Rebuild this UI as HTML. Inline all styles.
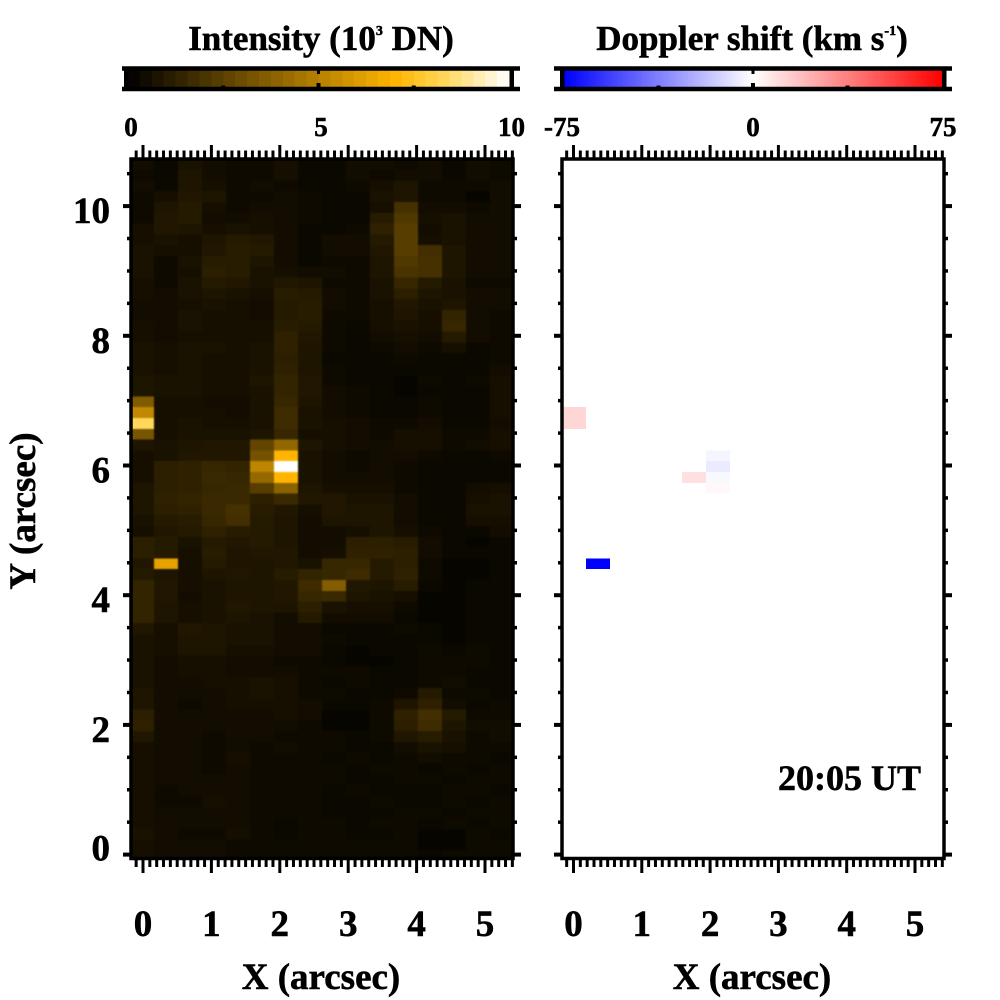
<!DOCTYPE html>
<html>
<head>
<meta charset="utf-8">
<title>Intensity and Doppler shift maps</title>
<style>
html,body{margin:0;padding:0;background:#fff;width:1000px;height:1000px;overflow:hidden}
svg{display:block}
text{font-family:"Liberation Serif",serif;font-weight:bold;fill:#000;stroke:#000;stroke-width:.55px}
</style>
</head>
<body>
<svg id="chart" width="1000" height="1000" viewBox="0 0 1000 1000" xmlns="http://www.w3.org/2000/svg">
  <text x="321" y="50" font-size="35" text-anchor="middle">Intensity (10<tspan font-size="14" dy="-15">3</tspan><tspan dy="15"> DN)</tspan></text>
  <text x="752" y="50" font-size="35" text-anchor="middle">Doppler shift (km s<tspan font-size="14" dy="-15">-1</tspan><tspan dy="15">)</tspan></text>
  <g id="colorbars"></g>
  <g id="left-image"></g>
  <g id="right-image"></g>
  <g id="axes"></g>
  <text x="321" y="989" font-size="37" text-anchor="middle">X (arcsec)</text>
  <text x="752" y="989" font-size="37" text-anchor="middle">X (arcsec)</text>
  <text transform="translate(35,511) rotate(-90)" font-size="37" text-anchor="middle">Y (arcsec)</text>
  <text x="778" y="790" font-size="36">20:05 UT</text>
</svg>
<script>
// Data: intensity in units of 100 DN, one row per detector row (top to bottom), 16 columns
const intensityRows = [
[5,3,7,5,4,4,6,3,3,5,5,4,5,3,5,4],
[4,3,8,5,4,4,6,3,3,5,4,5,5,3,5,4],
[5,3,8,6,4,5,4,3,3,4,6,8,4,4,4,5],
[4,6,9,8,4,4,5,4,3,3,7,8,4,4,2,5],
[4,8,10,6,4,5,5,4,3,3,6,19,5,5,4,5],
[4,9,10,5,5,6,5,4,3,3,11,22,6,7,5,5],
[6,9,8,6,7,6,5,3,3,4,13,24,5,7,5,5],
[6,7,6,8,10,9,5,3,5,5,10,24,6,7,5,5],
[7,6,6,9,11,10,5,3,5,5,9,24,18,8,5,5],
[7,4,7,11,11,8,5,3,4,4,8,22,19,8,5,5],
[7,4,6,12,11,7,6,5,5,4,8,20,19,8,5,5],
[6,4,7,10,9,7,9,8,4,4,7,15,10,7,4,4],
[6,5,7,8,7,6,11,10,5,4,7,12,8,7,5,5],
[5,5,6,7,6,5,10,11,5,4,6,9,7,8,5,5],
[5,5,7,6,6,5,10,11,4,4,6,8,6,14,5,4],
[6,5,7,6,6,6,11,10,4,3,6,7,6,15,5,4],
[6,5,6,6,6,6,13,9,4,3,5,6,5,10,5,4],
[7,6,7,7,6,7,13,8,4,3,4,5,4,6,3,4],
[7,6,7,6,6,7,12,8,3,3,3,4,3,3,3,4],
[7,6,7,6,6,7,13,8,4,3,3,3,3,3,3,5],
[8,7,7,6,6,8,14,9,4,3,3,2,4,3,4,6],
[8,7,7,6,6,7,14,9,5,4,3,2,3,3,3,6],
[35,6,6,5,5,7,15,8,5,4,3,3,4,3,3,6],
[53,6,6,6,5,7,17,7,5,4,3,3,4,3,3,6],
[83,6,7,6,6,7,17,7,6,5,4,4,5,3,3,5],
[33,6,7,7,7,8,15,6,6,5,4,6,6,4,4,6],
[8,7,8,9,9,27,40,8,6,5,5,6,6,4,5,6],
[6,7,9,9,9,32,70,7,5,4,5,5,4,3,3,4],
[6,12,13,15,14,52,100,7,5,4,5,4,3,3,3,3],
[6,12,13,16,15,41,70,7,5,5,5,4,3,3,3,3],
[8,12,13,15,16,24,38,8,6,6,6,4,3,3,5,6],
[8,13,14,16,16,12,16,9,9,7,7,5,3,3,6,7],
[8,12,13,16,19,11,9,6,9,8,8,5,3,3,7,7],
[7,10,11,15,18,10,8,5,8,8,8,5,3,3,6,6],
[6,9,10,13,11,10,8,5,5,6,8,6,4,3,3,5],
[12,10,7,10,9,10,8,5,5,12,12,11,5,3,2,3],
[12,10,6,11,8,9,9,5,6,13,13,12,5,3,3,3],
[9,63,6,10,8,8,9,7,15,15,10,12,4,2,2,3],
[10,8,6,8,9,8,11,14,15,17,10,13,4,2,2,3],
[14,9,6,7,8,8,9,17,36,9,8,11,3,2,3,3],
[14,9,5,7,8,8,9,15,16,8,7,6,2,2,3,3],
[14,8,6,7,9,8,8,12,7,6,6,4,2,2,3,3],
[14,8,6,7,8,7,5,10,5,5,5,3,2,2,3,3],
[9,6,9,8,7,7,5,5,3,3,3,4,3,2,3,3],
[7,6,8,8,7,7,5,5,4,3,3,3,3,2,3,3],
[7,6,8,8,6,6,5,5,3,2,3,3,4,3,4,3],
[7,5,6,6,5,5,4,4,3,2,2,3,4,4,4,3],
[7,5,6,6,5,5,5,4,4,4,3,3,4,4,3,3],
[7,5,5,6,6,7,6,4,3,4,3,3,4,5,3,3],
[8,5,5,5,6,7,6,4,4,3,3,4,10,4,4,3],
[8,5,4,5,6,6,6,5,3,3,4,8,13,5,3,4],
[12,5,5,5,5,5,6,5,2,2,4,13,18,10,4,4],
[13,5,5,5,5,5,5,4,2,2,4,12,17,8,5,5],
[9,5,5,4,5,5,4,4,4,3,4,9,11,7,4,5],
[6,5,5,4,5,4,5,4,4,3,3,5,7,6,4,4],
[6,5,5,4,6,4,4,4,3,4,3,4,5,4,4,3],
[6,5,5,4,5,4,4,4,4,3,4,4,3,4,3,4],
[6,5,5,5,5,4,4,4,4,3,3,4,4,3,4,4],
[6,4,5,5,5,4,4,4,3,4,3,3,3,4,4,3],
[6,4,4,6,5,4,4,4,3,3,4,3,3,4,3,4],
[6,5,5,5,5,4,4,4,3,3,3,4,4,3,4,4],
[6,5,5,5,5,4,3,4,4,3,4,4,3,4,3,4],
[7,5,4,4,6,4,3,4,4,3,3,4,2,2,4,3],
[6,5,5,5,4,4,4,4,4,4,4,4,2,2,4,4],
[6,5,5,5,4,4,4,4,4,4,4,4,3,4,4,4]
];
// Doppler pixels (all other pixels carry no measurement)
const dopplerCols = [0,0,1,5,6,6,6,6];
const dopplerRows = [23,24,37,29,27,28,29,30];
const dopplerValues = [12,12,-75,9,-3,-6,-2,2];
// Tick values and labels
const xMajorTicks = [0,1,2,3,4,5];
const yMajorTicks = [0,2,4,6,8,10];
const yLabelTicks = ["0","2","4","6","8","10"];
const xLabelTicks = ["0","1","2","3","4","5"];
const intensityBarTicks = [0,2.5,5,7.5,10];
const intensityBarLabels = ["0","","5","","10"];
const dopplerBarTicks = [-75,-37.5,0,37.5,75];
const dopplerBarLabels = ["-75","","0","","75"];

const NS = "http://www.w3.org/2000/svg";
function mk(tag, parent, attrs){
  const el = document.createElementNS(NS, tag);
  for (const k in attrs) el.setAttribute(k, attrs[k]);
  parent.appendChild(el);
  return el;
}
// Axis functions
const xLeft = v => 143 + 68.4 * v;
const xRight = v => 573.5 + 68.3 * v;
const yAxis = v => 854.6 - 64.85 * v;
const intensityBarX = v => 128 + 38.1 * v;
const dopplerBarX = v => 753 + 2.52 * v;
const cellArcW = 24 / 68.4;
const cellArcH = 10.8 / 64.85;
const colArc = c => -0.19 + c * cellArcW;
const dopplerColArc = c => -0.168 + c * cellArcW;
const rowArc = r => 10.73 - r * cellArcH;

function mix(a, b, t){ return a.map((x, i) => Math.round(x + (b[i] - x) * t)); }
function intensityColor(v){
  v = Math.max(0, Math.min(10, v));
  let c;
  if (v < 7) c = mix([0,0,0], [255,180,0], v / 7);
  else if (v < 8.3) c = mix([255,180,0], [255,215,90], (v - 7) / 1.3);
  else c = mix([255,215,90], [255,255,255], (v - 8.3) / 1.7);
  return "rgb(" + c.join(",") + ")";
}
function dopplerColor(v){
  const t = Math.min(1, Math.abs(v) / 75);
  const c = v < 0 ? mix([255,255,255], [0,0,255], t) : mix([255,255,255], [255,0,0], t);
  return "rgb(" + c.join(",") + ")";
}

// Intensity image
const leftImg = document.getElementById("left-image");
const svgRoot = document.getElementById("chart");
const defs = mk("defs", svgRoot, {});
const clip = mk("clipPath", defs, {id:"left-clip"});
mk("rect", clip, {x:130, y:158, width:384, height:699});
const soften = mk("filter", defs, {id:"soften", "color-interpolation-filters":"sRGB"});
mk("feGaussianBlur", soften, {stdDeviation:0.7});
leftImg.setAttribute("clip-path", "url(#left-clip)");
mk("rect", leftImg, {x:130, y:158, width:384, height:699, fill:"#140e00"});
const leftCells = mk("g", leftImg, {filter:"url(#soften)"});
intensityRows.forEach((row, r) => {
  row.forEach((n, c) => {
    const cell = mk("rect", leftCells, {
      x: xLeft(colArc(c)).toFixed(2),
      y: yAxis(rowArc(r)).toFixed(2),
      width: (xLeft(colArc(c + 1)) - xLeft(colArc(c))).toFixed(2),
      height: (yAxis(rowArc(r + 1)) - yAxis(rowArc(r))).toFixed(2),
      fill: intensityColor(n / 10),
      "shape-rendering": "crispEdges"
    });
    
    
  });
});

// Doppler image
const rightImg = document.getElementById("right-image");
dopplerValues.forEach((v, i) => {
  const c = dopplerCols[i], r = dopplerRows[i];
  const cell = mk("rect", rightImg, {
    x: xRight(dopplerColArc(c)).toFixed(2),
    y: yAxis(rowArc(r)).toFixed(2),
    width: (xRight(dopplerColArc(c + 1)) - xRight(dopplerColArc(c))).toFixed(2),
    height: (yAxis(rowArc(r + 1)) - yAxis(rowArc(r))).toFixed(2),
    fill: dopplerColor(v),
    "shape-rendering": "crispEdges"
  });
  
  
});

// Axes
const axes = document.getElementById("axes");
function line(x1, y1, x2, y2, w){
  const l = mk("line", axes, {x1:x1, y1:y1, x2:x2, y2:y2, stroke:"#000", "stroke-width":w});
  
  
  return l;
}
function drawPanel(xs, left, right, withYLabels){
  const frame = mk("rect", axes, {x:left, y:159, width:right-left, height:699.5, fill:"none", stroke:"#000", "stroke-width":3.5});
  
  
  for (let i = -1; i <= 54; i++){
    const px = xs(i / 10);
    const major = i % 10 === 0 && i >= 0;
    line(px, 158, px, major ? 145 : 150.5, 3);
    line(px, 859, px, major ? 873 : 867, 3);
  }
  for (let i = 0; i <= 21; i++){
    const py = yAxis(i / 2);
    const major = i % 4 === 0;
    line(left, py, left - (major ? 8 : 4), py, major ? 4 : 3.5);
    line(right, py, right + (major ? 8 : 4), py, major ? 4 : 3.5);
  }
  xMajorTicks.forEach((v, i) => {
    const t = mk("text", axes, {x:xs(v), y:936, "font-size":37, "text-anchor":"middle"});
    t.textContent = xLabelTicks[i];
    
    
  });
  if (withYLabels){
    yMajorTicks.forEach((v, i) => {
      const t = mk("text", axes, {x:110, y:yAxis(v) + (v === 0 ? 6 : 17), "font-size":37, "text-anchor":"end"});
      t.textContent = yLabelTicks[i];
      
      
    });
  }
}
drawPanel(xLeft, 131, 513, true);
drawPanel(xRight, 562, 944, false);

// Colorbars
const bars = document.getElementById("colorbars");
const leftSteps = 32;
for (let i = 0; i < leftSteps; i++){
  const v0 = 10 * i / leftSteps, v1 = 10 * (i + 1) / leftSteps;
  const s = mk("rect", bars, {x:intensityBarX(v0), y:68, width:intensityBarX(v1) - intensityBarX(v0) + 0.5, height:21, fill:intensityColor((v0 + v1) / 2), "shape-rendering":"crispEdges"});
  
  
}
const rightSteps = 128;
for (let i = 0; i < rightSteps; i++){
  const v0 = -75 + 150 * i / rightSteps, v1 = -75 + 150 * (i + 1) / rightSteps;
  const s = mk("rect", bars, {x:dopplerBarX(v0), y:68, width:dopplerBarX(v1) - dopplerBarX(v0) + 0.5, height:21, fill:dopplerColor((v0 + v1) / 2), "shape-rendering":"crispEdges"});
  
  
}
function barFrame(x1, x2, lx, rx){
  [68.5, 89].forEach(y => {
    const b = mk("rect", bars, {x:x1, y:y - 2.25, width:x2 - x1, height:4.5, fill:"#000"});
    
    
  });
  [lx, rx].forEach(x => {
    const b = mk("rect", bars, {x:x - 2, y:68, width:4.5, height:21, fill:"#000"});
    
    
  });
}
barFrame(122, 520, 126, 511.5);
barFrame(554, 952, 562, 944);
function barTicks(tickX, labelX, ticks, labels){
  ticks.forEach((v, i) => {
    const px = tickX(v);
    if (i === 2){
      const a = mk("rect", bars, {x:px - 1.5, y:70, width:3, height:4, fill:"#000"});
      
      
    }
    if (i > 0 && i < ticks.length - 1){
      const b = mk("rect", bars, {x:px - 2, y:i === 2 ? 83 : 85.5, width:4, height:i === 2 ? 4 : 1.5, fill:"#000"});
      
      
    }
    if (labels[i] !== ""){
      const t = mk("text", bars, {x:labelX(v), y:136, "font-size":27, "text-anchor":"middle"});
      t.textContent = labels[i];
      
      
    }
  });
}
barTicks(intensityBarX, v => (v === 0 ? 131 : v === 5 ? 321 : 511.5), intensityBarTicks, intensityBarLabels);
barTicks(dopplerBarX, v => (v === -75 ? 562 : v === 0 ? 753 : 943), dopplerBarTicks, dopplerBarLabels);
</script>
</body>
</html>
